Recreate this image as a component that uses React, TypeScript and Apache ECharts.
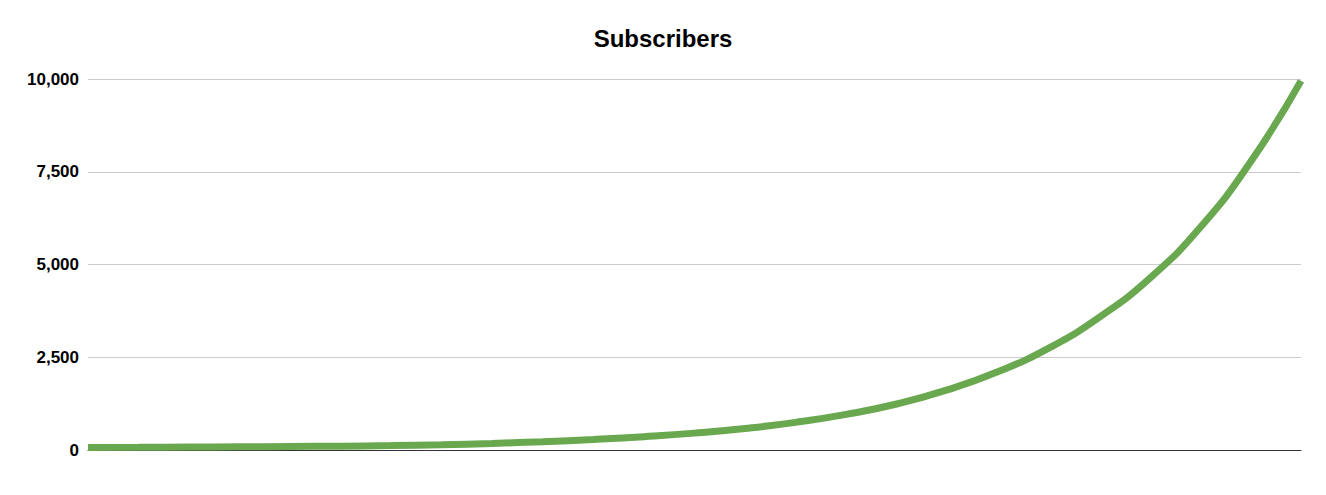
import React, { useEffect, useRef } from "react";
import * as echarts from "echarts";

const categories: string[] = [
  "1", "2", "3", "4", "5", "6", "7", "8", "9", "10", "11", "12", "13",
  "14", "15", "16", "17", "18", "19", "20", "21", "22", "23", "24", "25",
];

const subscribers: number[] = [
  70, 74, 79, 85, 93, 104, 120, 143, 178, 225, 285, 360, 455,
  580, 745, 960, 1240, 1620, 2110, 2740, 3570, 4620, 5990, 7760, 9950,
];

const yTicks: number[] = [0, 2500, 5000, 7500, 10000];

export default function App() {
  const ref = useRef<HTMLDivElement>(null);

  useEffect(() => {
    if (!ref.current) return;
    const chart = echarts.init(ref.current, undefined, { renderer: "svg" });
    chart.setOption({
      animation: false,
      backgroundColor: "#ffffff",
      title: {
        text: "Subscribers",
        left: "center",
        top: 21,
        textStyle: {
          fontFamily: "Liberation Sans, Arial, sans-serif",
          fontSize: 24,
          fontWeight: "bold",
          color: "#000000",
        },
      },
      grid: { left: 88, right: 25, top: 79, bottom: 45, containLabel: false },
      xAxis: {
        type: "category",
        data: categories,
        boundaryGap: false,
        axisLine: { show: true, lineStyle: { color: "#333333", width: 1 } },
        axisTick: { show: false },
        axisLabel: { show: false },
        splitLine: { show: false },
      },
      yAxis: {
        type: "value",
        min: yTicks[0],
        max: yTicks[yTicks.length - 1],
        interval: 2500,
        axisLine: { show: false },
        axisTick: { show: false },
        axisLabel: {
          margin: 9,
          fontFamily: "Liberation Sans, Arial, sans-serif",
          fontSize: 17,
          fontWeight: "bold",
          color: "#000000",
          formatter: (v: number) => v.toLocaleString("en-US"),
        },
        splitLine: { lineStyle: { color: "#cccccc", width: 1 } },
      },
      series: [
        {
          type: "line",
          data: subscribers,
          smooth: 0.5,
          symbol: "none",
          clip: true,
          lineStyle: { color: "#6aa84f", width: 7 },
        },
      ],
    });
    return () => chart.dispose();
  }, []);

  return (
    <div
      ref={ref}
      style={{ position: "fixed", left: 0, top: 0, width: 1326, height: 495 }}
    />
  );
}
